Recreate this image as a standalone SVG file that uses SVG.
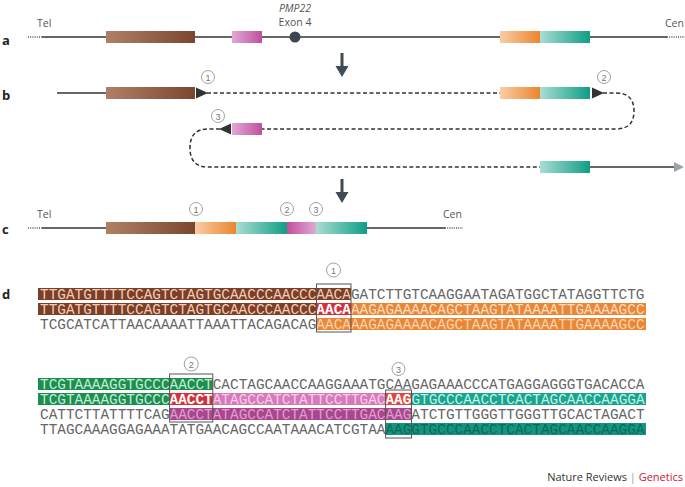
<svg xmlns="http://www.w3.org/2000/svg" width="685" height="487" viewBox="0 0 685 487">
<defs>
<linearGradient id="gBrown" x1="0" x2="1" y1="0" y2="0"><stop offset="0" stop-color="#b08066"/><stop offset="1" stop-color="#7a4630"/></linearGradient>
<linearGradient id="gPink" x1="0" x2="1" y1="0" y2="0"><stop offset="0" stop-color="#e2a8d4"/><stop offset="1" stop-color="#c0509c"/></linearGradient>
<linearGradient id="gPinkR" x1="0" x2="1" y1="0" y2="0"><stop offset="0" stop-color="#c0509c"/><stop offset="1" stop-color="#e2a8d4"/></linearGradient>
<linearGradient id="gOrange" x1="0" x2="1" y1="0" y2="0"><stop offset="0" stop-color="#f9cca4"/><stop offset="1" stop-color="#ec8530"/></linearGradient>
<linearGradient id="gTeal" x1="0" x2="1" y1="0" y2="0"><stop offset="0" stop-color="#a8ddd2"/><stop offset="1" stop-color="#0f9e86"/></linearGradient>
<style>
.ln{stroke:#333;stroke-width:1.5;fill:none}
.dot{stroke:#555;stroke-width:1.5;stroke-dasharray:1 1.2;fill:none}
.dash{stroke:#333;stroke-width:1.5;stroke-dasharray:4 2.5;fill:none}
.lab{font-family:"Open Sans","Liberation Sans",sans-serif;font-weight:bold;font-size:13px;fill:#222}
.sm{font-family:"Open Sans","Liberation Sans",sans-serif;font-size:10.5px;fill:#555}
.cn{fill:#fff;stroke:#888;stroke-width:0.8}
.cnt{font-family:"Liberation Sans",sans-serif;font-size:9px;fill:#777;text-anchor:middle}
.seq{font-family:"Liberation Mono","Courier New",monospace;font-size:14.4px;fill:#666}
.b{font-weight:bold;fill:#fff}
.hb{stroke:#555;stroke-width:1;fill:none}
.darr{fill:#3f4b55}
</style>
</defs>
<rect width="685" height="487" fill="#fff"/>

<!-- panel labels -->
<text class="lab" x="2" y="45">a</text>
<text class="lab" x="2" y="100">b</text>
<text class="lab" x="2" y="234">c</text>
<text class="lab" x="2" y="299">d</text>

<!-- panel a -->
<g id="panel-a">
<path class="dot" d="M28 37H42"/>
<path class="ln" d="M42 37H667"/>
<path class="dot" d="M667 37H685"/>
<text class="sm" x="37" y="27">Tel</text>
<text class="sm" x="665" y="27">Cen</text>
<g id="a-brown"><rect x="106" y="31" width="89" height="12" fill="url(#gBrown)"/></g>
<g id="a-pink"><rect x="232" y="31" width="30" height="12" fill="url(#gPink)"/></g>
<g id="a-exon4"><circle cx="295" cy="37" r="5.5" fill="#3d4650"/>
<text class="sm" x="295" y="12" text-anchor="middle" font-style="italic">PMP22</text>
<text class="sm" x="295" y="26" text-anchor="middle">Exon 4</text></g>
<g id="a-orange"><rect x="500" y="31" width="40" height="12" fill="url(#gOrange)"/></g>
<g id="a-teal"><rect x="540" y="31" width="50" height="12" fill="url(#gTeal)"/></g>
</g>

<!-- panel b -->
<g id="panel-b">
<g id="b-brown"><rect x="106" y="87" width="89" height="12" fill="url(#gBrown)"/></g>
<g id="b-orange"><rect x="500" y="87" width="40" height="12" fill="url(#gOrange)"/></g>
<g id="b-teal"><rect x="540" y="87" width="50" height="12" fill="url(#gTeal)"/></g>
<g id="b-pink"><rect x="232" y="123" width="30" height="12" fill="url(#gPink)"/></g>
<g id="b-teal2"><rect x="540" y="161" width="50" height="12" fill="url(#gTeal)"/></g>
<g id="b-c1"><circle class="cn" cx="208" cy="77" r="6.5"/><text class="cnt" x="208" y="80.5">1</text></g>
<g id="b-c2"><circle class="cn" cx="604" cy="77" r="6.5"/><text class="cnt" x="604" y="80.5">2</text></g>
<g id="b-c3"><circle class="cn" cx="218" cy="116" r="6.5"/><text class="cnt" x="218" y="119.5">3</text></g>
</g>

<g id="connectors">
<path class="darr" d="M340.5 53H343.5V66H348.5L342 77L335.5 66H340.5Z"/>
<path class="darr" d="M340.5 179H343.5V192H348.5L342 203L335.5 192H340.5Z"/>
<path class="ln" d="M57 93H106"/>
<polygon points="196,87.5 208,93 196,98.5" fill="#333"/>
<path class="dash" d="M207 93H500"/>
<polygon points="592,87.5 604,93 592,98.5" fill="#333"/>
<path class="dash" d="M603 93H616Q634 93 634 111Q634 129 616 129H262"/>
<polygon points="231,123.5 219,129 231,134.5" fill="#333"/>
<path class="dash" d="M220 129H208Q190 129 190 148Q190 167 208 167H540"/>
<path class="ln" d="M590 167H675"/>
<polygon points="674,162 684,167 674,172" fill="#9aa4ab"/>
</g>

<!-- panel c -->
<g id="panel-c">
<path class="dot" d="M28 228H42"/>
<path class="ln" d="M42 228H445"/>
<path class="dot" d="M445 228H463"/>
<text class="sm" x="37" y="218">Tel</text>
<text class="sm" x="443" y="218">Cen</text>
<g id="c-brown"><rect x="106" y="222" width="89" height="12" fill="url(#gBrown)"/></g>
<g id="c-orange"><rect x="195" y="222" width="41" height="12" fill="url(#gOrange)"/></g>
<g id="c-teal1"><rect x="236" y="222" width="51" height="12" fill="url(#gTeal)"/></g>
<g id="c-pink"><rect x="287" y="222" width="29" height="12" fill="url(#gPinkR)"/></g>
<g id="c-teal2"><rect x="316" y="222" width="51" height="12" fill="url(#gTeal)"/></g>
<g id="c-c1"><circle class="cn" cx="196" cy="209" r="6.5"/><text class="cnt" x="196" y="212.5">1</text></g>
<g id="c-c2"><circle class="cn" cx="287" cy="209" r="6.5"/><text class="cnt" x="287" y="212.5">2</text></g>
<g id="c-c3"><circle class="cn" cx="316" cy="209" r="6.5"/><text class="cnt" x="316" y="212.5">3</text></g>
</g>

<!-- panel d -->
<g id="panel-d">
<g id="d-block1">
<rect x="38" y="288" width="313" height="12" fill="#7b3f27"/>
<rect x="38" y="303" width="278.5" height="12" fill="#7b3f27"/>
<rect x="316.5" y="303" width="34.5" height="12" fill="#d4303c"/>
<rect x="351" y="303" width="295" height="12" fill="#ea8636"/>
<rect x="316.5" y="318" width="329.5" height="12" fill="#ea8636"/>
<text class="seq" x="40" y="298.5"><tspan fill="#f2cbb6">TTGATGTTTTCCAGTCTAGTGCAACCCAACCCAACA</tspan>GATCTTGTCAAGGAATAGATGGCTATAGGTTCTG</text>
<text class="seq" x="40" y="313.5"><tspan fill="#f2cbb6">TTGATGTTTTCCAGTCTAGTGCAACCCAACCC</tspan><tspan class="b">AACA</tspan><tspan fill="#fcdcbc">AAGAGAAAACAGCTAAGTATAAAATTGAAAAGCC</tspan></text>
<text class="seq" x="40" y="328.5">TCGCATCATTAACAAAATTAAATTACAGACAG<tspan fill="#fad4ae">AACAAAGAGAAAACAGCTAAGTATAAAATTGAAAAGCC</tspan></text>
<rect class="hb" x="316.5" y="284" width="34.5" height="48"/>
<circle class="cn" cx="333.5" cy="270" r="7"/><text class="cnt" x="333.5" y="273.5">1</text>
</g>
<g id="d-block2">
<rect x="38" y="378" width="174.8" height="12" fill="#1f8c50"/>
<rect x="38" y="393" width="131.6" height="12" fill="#1f8c50"/>
<rect x="169.6" y="393" width="43.2" height="12" fill="#d4303c"/>
<rect x="212.8" y="393" width="172.8" height="12" fill="#d67abb"/>
<rect x="385.6" y="393" width="25.9" height="12" fill="#e0453f"/>
<rect x="411.5" y="393" width="234.5" height="12" fill="#19a48d"/>
<rect x="169.6" y="408" width="241.9" height="12" fill="#a8478d"/>
<rect x="385.6" y="423" width="260.4" height="12" fill="#14957f"/>
<text class="seq" x="40" y="388.5"><tspan fill="#bdeed3">TCGTAAAAGGTGCCCAACCT</tspan>CACTAGCAACCAAGGAAATGCAAGAGAAACCCATGAGGAGGGTGACACCA</text>
<text class="seq" x="40" y="403.5"><tspan fill="#bdeed3">TCGTAAAAGGTGCCC</tspan><tspan class="b">AACCT</tspan><tspan fill="#f6cde8">ATAGCCATCTATTCCTTGAC</tspan><tspan class="b">AAG</tspan><tspan fill="#c0f0e6">GTGCCCAACCTCACTAGCAACCAAGGA</tspan></text>
<text class="seq" x="40" y="418.5">CATTCTTATTTTCAG<tspan fill="#df9dcb">AACCTATAGCCATCTATTCCTTGACAAG</tspan>ATCTGTTGGGTTGGGTTGCACTAGACT</text>
<text class="seq" x="40" y="433.5">TTAGCAAAGGAGAAATATGAACAGCCAATAAACATCGTAA<tspan fill="#0b6a5a">AAGGTGCCCAACCTCACTAGCAACCAAGGA</tspan></text>
<rect class="hb" x="169.6" y="374" width="43.2" height="48"/>
<rect class="hb" x="385.6" y="390" width="25.9" height="48"/>
<circle class="cn" cx="191.2" cy="364" r="7"/><text class="cnt" x="191.2" y="367.5">2</text>
<circle class="cn" cx="398.5" cy="369" r="6.5"/><text class="cnt" x="398.5" y="372.5">3</text>
</g>
</g>

<g id="credit">
<text x="683" y="481" text-anchor="end" font-family="'Open Sans','Liberation Sans',sans-serif" font-size="11"><tspan fill="#333">Nature Reviews</tspan><tspan fill="#999"> | </tspan><tspan fill="#c8202f">Genetics</tspan></text>
</g>
</svg>
